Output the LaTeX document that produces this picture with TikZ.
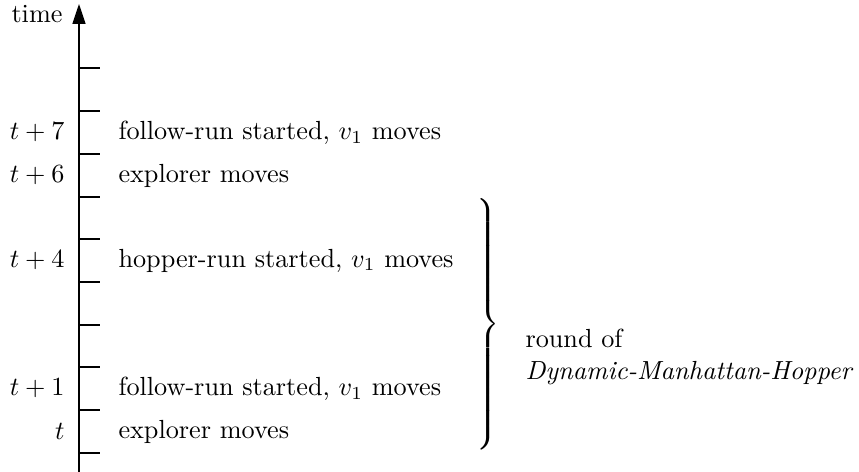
\documentclass[tikz,border=0pt]{standalone}
\usetikzlibrary{arrows.meta}
\begin{document}
\begin{tikzpicture}[x=0.38168pt,y=-0.38168pt,
  axis/.style={line width=0.45pt,-{Triangle[length=7.6pt,width=5pt]}},
  tick/.style={line width=0.45pt},
  lefttext/.style={anchor=east,inner sep=0pt},
  righttext/.style={anchor=west,inner sep=0pt}]
\useasboundingbox (0,0) rectangle (859,472);
% time axis
\coordinate (axbot) at (79,474);
\coordinate (axtop) at (79,4);
\draw[axis] (axbot) -- (axtop);
\node[lefttext] (timelbl) at (63,14) {time};
% ticks
\foreach \y in {68,111,154,197,239,282,325,367,410,453}
  \draw[tick] (79,\y) -- (100,\y);
% step labels
\node[lefttext] (l7) at (65,132.5) {$t+7$};
\node[lefttext] (l6) at (65,175.5) {$t+6$};
\node[lefttext] (l4) at (65,260.5) {$t+4$};
\node[lefttext] (l1) at (65,388.5) {$t+1$};
\node[lefttext] (l0) at (65,431.5) {$t$};
\node[righttext] (r7) at (118,132.5) {follow-run started, $v_1$ moves};
\node[righttext] (r6) at (118,175.5) {explorer moves};
\node[righttext] (r4) at (118,260.5) {hopper-run started, $v_1$ moves};
\node[righttext] (r1) at (118,388.5) {follow-run started, $v_1$ moves};
\node[righttext] (r0) at (118,431.5) {explorer moves};
% brace over one round (an extensible TeX delimiter)
\node[anchor=east,inner sep=0pt] (brace) at (500,324.5)
  {$\delimiterfactor=1000 \delimitershortfall=0pt \nulldelimiterspace=0pt
    \left.\vrule height 48.8pt depth 43.8pt width 0pt\right\}$};
\node[anchor=north west,inner sep=0pt,align=left] (round) at (525,329)
  {round of\\\textit{Dynamic-Manhattan-Hopper}};
\end{tikzpicture}
\end{document}
